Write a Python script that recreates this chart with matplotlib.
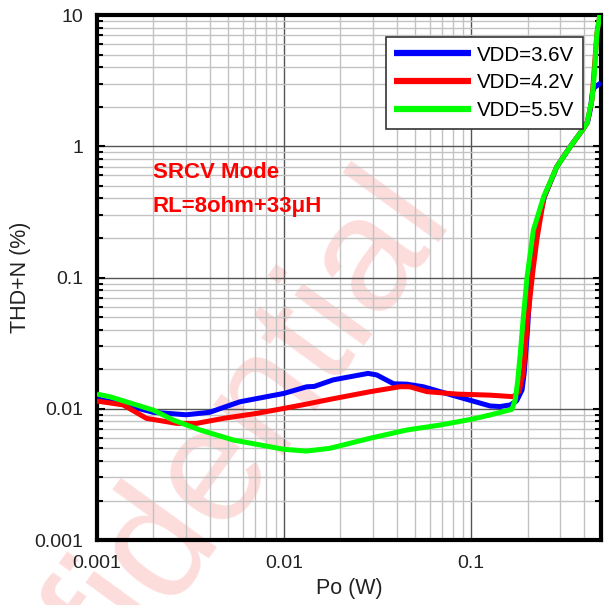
import matplotlib
matplotlib.use("Agg")
import matplotlib.pyplot as plt
from matplotlib.ticker import LogLocator, FixedLocator, FixedFormatter, NullFormatter

plt.rcParams['font.family'] = ['Liberation Sans', 'DejaVu Sans']

# THD+N versus output power, one curve per supply voltage
series_labels = ["VDD=3.6V", "VDD=4.2V", "VDD=5.5V"]
series_colors = ["#0000ff", "#ff0000", "#00ff00"]

po_36 = [0.001, 0.0013, 0.002, 0.003, 0.004, 0.0058, 0.01, 0.0132, 0.0145, 0.0183,
         0.0281, 0.0313, 0.0385, 0.0453, 0.0556, 0.0838, 0.1264, 0.143, 0.162, 0.175,
         0.187, 0.192, 0.2, 0.207, 0.218, 0.246, 0.287, 0.338, 0.399, 0.42, 0.433,
         0.445, 0.455, 0.495]
thd_36 = [0.0119, 0.0110, 0.0094, 0.0090, 0.0094, 0.0113, 0.0131, 0.0147, 0.0148, 0.0166,
          0.0186, 0.0181, 0.0155, 0.0154, 0.0147, 0.0124, 0.0105, 0.0104, 0.0107, 0.0115,
          0.0139, 0.0187, 0.040, 0.090, 0.20, 0.41, 0.70, 0.99, 1.37, 1.55, 1.9,
          2.6, 2.8, 3.05]

po_42 = [0.001, 0.00138, 0.00184, 0.00267, 0.00341, 0.00474, 0.00714, 0.01, 0.0132, 0.0176,
         0.0288, 0.0417, 0.047, 0.058, 0.0838, 0.126, 0.168, 0.18, 0.19, 0.2,
         0.214, 0.225, 0.245, 0.287, 0.338, 0.399, 0.416, 0.442, 0.47, 0.49]
thd_42 = [0.01145, 0.0107, 0.00845, 0.00774, 0.00774, 0.00845, 0.00922, 0.01007, 0.01086, 0.0118,
          0.01349, 0.01473, 0.0147, 0.0135, 0.01294, 0.0127, 0.01236, 0.0135, 0.0187, 0.0474,
          0.114, 0.20, 0.41, 0.70, 0.99, 1.37, 1.5, 2.25, 7.3, 10.5]

po_55 = [0.001, 0.00117, 0.002, 0.00256, 0.00356, 0.00535, 0.01, 0.0132, 0.0176, 0.0288,
         0.0453, 0.0683, 0.1, 0.126, 0.165, 0.172, 0.177, 0.183, 0.19, 0.199,
         0.215, 0.244, 0.287, 0.338, 0.399, 0.416, 0.43, 0.442, 0.455, 0.47, 0.49]
thd_55 = [0.01294, 0.01236, 0.00977, 0.0082, 0.00689, 0.00578, 0.00491, 0.00476, 0.0050, 0.00596,
          0.00689, 0.00752, 0.00831, 0.00896, 0.0099, 0.0117, 0.016, 0.0264, 0.05, 0.1014,
          0.230, 0.413, 0.698, 0.99, 1.37, 1.50, 1.9, 2.25, 3.5, 7.3, 10.5]

x_ticks = [0.001, 0.01, 0.1]
x_ticklabels = ["0.001", "0.01", "0.1"]
y_ticks = [0.001, 0.01, 0.1, 1, 10]
y_ticklabels = ["0.001", "0.01", "0.1", "1", "10"]

fig = plt.figure(figsize=(6.06, 6.05), dpi=100)
ax = fig.add_axes([0.160, 0.1074, 0.832, 0.8678])
ax.patch.set_facecolor('none')

for xs, ys, lab, col in zip([po_36, po_42, po_55], [thd_36, thd_42, thd_55],
                            series_labels, series_colors):
    ax.plot(xs, ys, color=col, lw=3.6, label=lab, solid_capstyle='butt', zorder=3)

ax.set_xscale('log')
ax.set_yscale('log')
ax.set_xlim(0.001, 0.495)
ax.set_ylim(0.001, 10)

ax.xaxis.set_major_locator(FixedLocator(x_ticks))
ax.xaxis.set_major_formatter(FixedFormatter(x_ticklabels))
ax.yaxis.set_major_locator(FixedLocator(y_ticks))
ax.yaxis.set_major_formatter(FixedFormatter(y_ticklabels))
ax.xaxis.set_minor_locator(LogLocator(base=10, subs=range(2, 10)))
ax.yaxis.set_minor_locator(LogLocator(base=10, subs=range(2, 10)))
ax.xaxis.set_minor_formatter(NullFormatter())
ax.yaxis.set_minor_formatter(NullFormatter())

ax.grid(which='major', color='#555555', lw=1.0, zorder=1)
ax.grid(which='minor', color='#c2c2c2', lw=1.0, zorder=1)
ax.set_axisbelow(True)

ax.tick_params(which='both', direction='in', top=False, right=True, width=1.5,
               labelsize=14, colors='black', labelcolor='#222222')
ax.tick_params(which='major', length=6, pad=10)
ax.tick_params(which='minor', length=4)
ax.tick_params(axis='x', which='both', length=0, pad=11)

for sp in ax.spines.values():
    sp.set_linewidth(3.0)
    sp.set_color('black')

ax.set_xlabel("Po (W)", fontsize=15.5, labelpad=4, color='#222222')
ax.set_ylabel("THD+N (%)", fontsize=15.5, labelpad=2, color='#222222')

ax.text(0.111, 0.69, "SRCV Mode", transform=ax.transAxes, color='#ff0000',
        fontsize=16, fontweight='bold', va='baseline', ha='left')
ax.text(0.111, 0.625, "RL=8ohm+33\u03bcH", transform=ax.transAxes, color='#ff0000',
        fontsize=16, fontweight='bold', va='baseline', ha='left')

leg = ax.legend(loc='upper right', bbox_to_anchor=(0.964, 0.958), borderaxespad=0,
                fontsize=14.8, handlelength=3.74, handletextpad=0.29, labelspacing=0.42,
                borderpad=0.42, fancybox=False, framealpha=1, edgecolor='#333333')
leg.get_frame().set_linewidth(1.2)
for h in leg.get_lines():
    h.set_linewidth(4.5)

# pale diagonal watermark behind the plot
fig.text(451 / 606, 1 - 214 / 605, "Confidential", fontsize=118, color='#fddcdc',
         rotation=54, rotation_mode='anchor', ha='right', va='baseline',
         zorder=-5)

fig.savefig("out.png", dpi=100, facecolor='white')
